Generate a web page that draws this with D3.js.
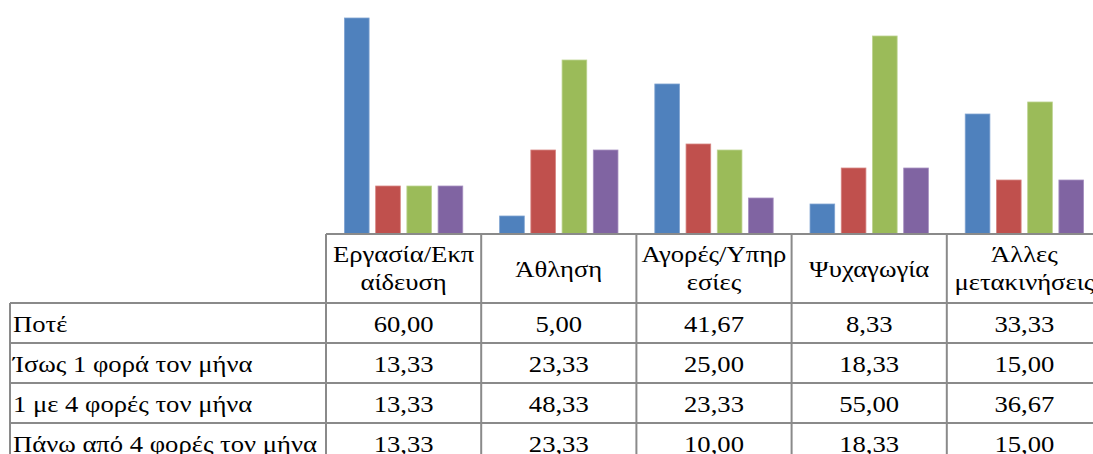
<!DOCTYPE html>
<html>
<head>
<meta charset="utf-8">
<script src="https://cdn.jsdelivr.net/npm/d3@7"></script>
</head>
<body style="margin:0">
<svg id="chart" width="1093" height="454"></svg>
<script>
// Trip purposes (columns of the data table)
const categories = ["Εργασία/Εκπαίδευση", "Άθληση", "Αγορές/Υπηρεσίες", "Ψυχαγωγία", "Άλλες μετακινήσεις"];
// Header lines as they wrap inside each column
const headerLines = [["Εργασία/Εκπ", "αίδευση"], ["Άθληση"], ["Αγορές/Υπηρ", "εσίες"], ["Ψυχαγωγία"], ["Άλλες", "μετακινήσεις"]];
// Frequency series (rows of the data table)
const seriesNames = ["Ποτέ", "Ίσως 1 φορά τον μήνα", "1 με 4 φορές τον μήνα", "Πάνω από 4 φορές τον μήνα"];
const seriesPote = [60.00, 5.00, 41.67, 8.33, 33.33];
const seriesOnce = [13.33, 23.33, 25.00, 18.33, 15.00];
const seriesOneToFour = [13.33, 48.33, 23.33, 55.00, 36.67];
const seriesMoreThanFour = [13.33, 23.33, 10.00, 18.33, 15.00];
const seriesValues = [seriesPote, seriesOnce, seriesOneToFour, seriesMoreThanFour];
const colors = ["#4F81BD", "#C0504D", "#9BBB59", "#8064A2"];
const strokes = ["#7FA3D1", "#D68582", "#BCD38F", "#A58FC0"];

const svg = d3.select("#chart");

const tableLeft = 10;
const plotLeft = 326;
const plotRight = 1102;
const baseY = 234;
const headerBottom = 303;
const rowH = 40;
const lineColor = "#8A8A8A";

const x = d3.scaleBand().domain(categories).range([plotLeft, plotRight]);
const xInner = d3.scaleBand().domain(d3.range(seriesNames.length))
  .range([0, x.bandwidth()]).paddingInner(0.21).paddingOuter(0.59);
const y = d3.scaleLinear().domain([0, 60]).range([baseY, 18]);

// Bars
const barData = [];
seriesValues.forEach((vals, si) => vals.forEach((v, ci) => barData.push({ si, ci, v })));
svg.append("g").selectAll("rect").data(barData).join("rect")
  .attr("x", d => x(categories[d.ci]) + xInner(d.si))
  .attr("y", d => y(d.v))
  .attr("width", xInner.bandwidth())
  .attr("height", d => baseY - y(d.v))
  .attr("fill", d => colors[d.si])
  .attr("stroke", d => strokes[d.si])
  .attr("stroke-width", 0.8);

// Data table grid
const grid = svg.append("g").attr("stroke", lineColor).attr("stroke-width", 2).attr("fill", "none");
const nRows = seriesNames.length;
const tableBottom = headerBottom + rowH * nRows;
grid.append("line").attr("x1", plotLeft).attr("x2", plotRight).attr("y1", baseY).attr("y2", baseY);
for (let r = 0; r <= nRows; r++) {
  const yy = headerBottom + r * rowH;
  grid.append("line").attr("x1", tableLeft).attr("x2", plotRight).attr("y1", yy).attr("y2", yy);
}
grid.append("line").attr("x1", tableLeft).attr("x2", tableLeft).attr("y1", headerBottom).attr("y2", tableBottom);
categories.forEach(c => {
  grid.append("line").attr("x1", x(c)).attr("x2", x(c)).attr("y1", baseY).attr("y2", tableBottom);
});
grid.append("line").attr("x1", plotRight).attr("x2", plotRight).attr("y1", baseY).attr("y2", tableBottom);

// Table text: serif face, slightly widened horizontally
const fontSize = 24;
const stretch = 1.11;
function addText(px, py, str, anchor) {
  return svg.append("text")
    .attr("transform", `translate(${px},${py}) scale(${stretch},1)`)
    .attr("text-anchor", anchor)
    .style("font-family", "Liberation Serif")
    .attr("font-size", fontSize)
    .attr("fill", "#000")
    .text(str);
}

// Header labels
categories.forEach((c, ci) => {
  const lines = headerLines[ci];
  const cx = x(c) + x.bandwidth() / 2;
  if (lines.length === 1) {
    addText(cx, 277, lines[0], "middle");
  } else {
    lines.forEach((l, li) => addText(cx, 262 + li * 28, l, "middle"));
  }
});

// Row labels and values
seriesNames.forEach((name, si) => {
  const rowTop = headerBottom + si * rowH;
  addText(tableLeft + 3, rowTop + 29, name, "start");
  seriesValues[si].forEach((v, ci) => {
    addText(x(categories[ci]) + x.bandwidth() / 2, rowTop + 29,
      v.toFixed(2).replace(".", ","), "middle");
  });
});
</script>
</body>
</html>
